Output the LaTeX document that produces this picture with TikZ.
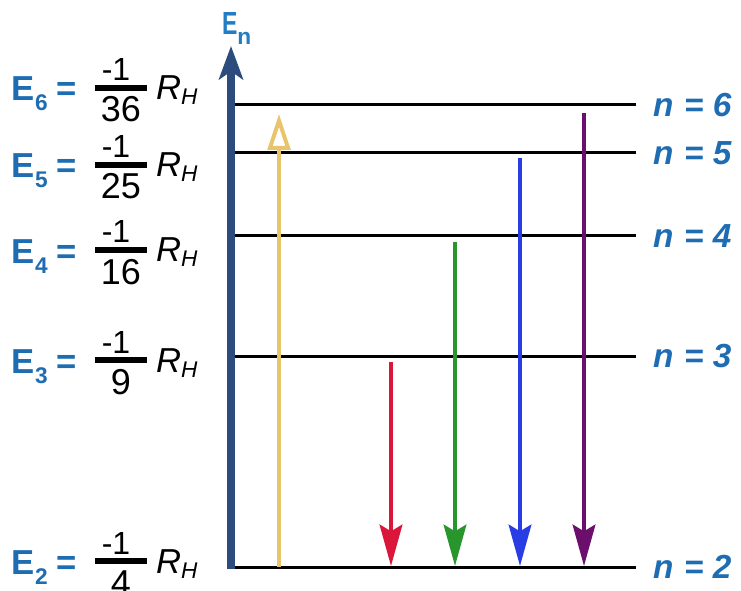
\documentclass[tikz,border=0pt]{standalone}
\usepackage{fontspec}
\usepackage{graphicx}
\setmainfont{Liberation Sans}
\usetikzlibrary{arrows.meta}
\definecolor{axisblue}{RGB}{43,76,124}
\definecolor{lblblue}{RGB}{30,108,178}
\definecolor{enblue}{RGB}{35,125,195}
\definecolor{arrred}{RGB}{218,22,58}
\definecolor{arrgreen}{RGB}{40,150,45}
\definecolor{arrblue}{RGB}{40,62,228}
\definecolor{arrpurple}{RGB}{108,14,108}
\definecolor{arryellow}{RGB}{232,196,108}
\newcommand\lowsub[3]{\raisebox{#1}{\fontsize{#2}{#2}\selectfont #3}}
\newcommand\levellabel[3]{%
  \node[elab] (E#1) at (12,{#2+13}) {E\lowsub{-7.5pt}{17}{#1}};
  \node[elab] (Eq#1) at (56,{#2+13}) {=};
  \coordinate (Fa#1) at (95,#2);
  \coordinate (Fb#1) at (147,#2);
  \draw[fracbar] (Fa#1) -- (Fb#1);
  \node[num] (Num#1) at (116,{#2-7}) {-1};
  \node[den] (Den#1) at (121,{#2+34}) {#3};
  \node[rh] (R#1) at (156,{#2+12}) {R\lowsub{-3.75pt}{17}{H}};
}
\newcommand\levelline[2]{%
  \coordinate (L#1w) at (235,#2);
  \coordinate (L#1e) at (636,#2);
  \draw[level] (L#1w) -- (L#1e);
  \node[nlab] (N#1) at (653,#2) {n\hspace{8pt}=\hspace{7pt}#1};
}
\begin{document}
\begin{tikzpicture}[x=0.75pt,y=-0.75pt,
  txt/.style={inner sep=0pt, outer sep=0pt},
  elab/.style={txt, anchor=base west, text=lblblue, font=\fontsize{26}{26}\selectfont\bfseries},
  num/.style={txt, anchor=base, font=\fontsize{24}{24}\selectfont},
  den/.style={txt, anchor=base, font=\fontsize{27}{27}\selectfont},
  rh/.style={txt, anchor=base west, font=\fontsize{26}{26}\selectfont\itshape},
  fracbar/.style={line width=4.5pt, black},
  level/.style={line width=2.25pt, black},
  nlab/.style={txt, anchor=west, text=lblblue, font=\fontsize{25}{25}\selectfont\bfseries\itshape},
  trans/.style={line width=3pt, -{Stealth[length=31pt,width=17pt,inset=5pt]}},
  absorb/.style={line width=3pt, arryellow, -{Triangle[open,length=27pt,width=17pt]}},
  axis/.style={line width=6.5pt, axisblue, -{Stealth[length=25pt,width=18pt,inset=6pt]}},
]
\fill[white] (0,0) rectangle (741,591);
\useasboundingbox (0,0) rectangle (741,591);

% energy axis
\coordinate (A0) at (231,569);
\coordinate (A1) at (231,46);
\draw[axis] (A0) -- (A1);
\node[txt, anchor=base west, text=enblue, font=\fontsize{24}{24}\selectfont\bfseries] (En) at (222,35)
  {\scalebox{0.72}[1]{E}\lowsub{-7pt}{17}{n}};

% levels
\levelline{6}{105}
\levelline{5}{153}
\levelline{4}{236}
\levelline{3}{356}
\levelline{2}{567}

% left labels
\levellabel{6}{88}{36}
\levellabel{5}{165}{25}
\levellabel{4}{250}{16}
\levellabel{3}{360}{9}
\levellabel{2}{561}{4}

% absorption (yellow)
\coordinate (Y2) at (279,567);
\coordinate (Y6) at (279,114);
\draw[absorb] (Y2) -- (Y6);

% emissions
\coordinate (Rs) at (391,362); \coordinate (Re) at (391,566);
\coordinate (Gs) at (455,242); \coordinate (Ge) at (455,566);
\coordinate (Bs) at (520,158); \coordinate (Be) at (520,566);
\coordinate (Ps) at (584,113); \coordinate (Pe) at (584,566);
\draw[trans, arrred] (Rs) -- (Re);
\draw[trans, arrgreen] (Gs) -- (Ge);
\draw[trans, arrblue] (Bs) -- (Be);
\draw[trans, arrpurple] (Ps) -- (Pe);
\end{tikzpicture}
\end{document}
